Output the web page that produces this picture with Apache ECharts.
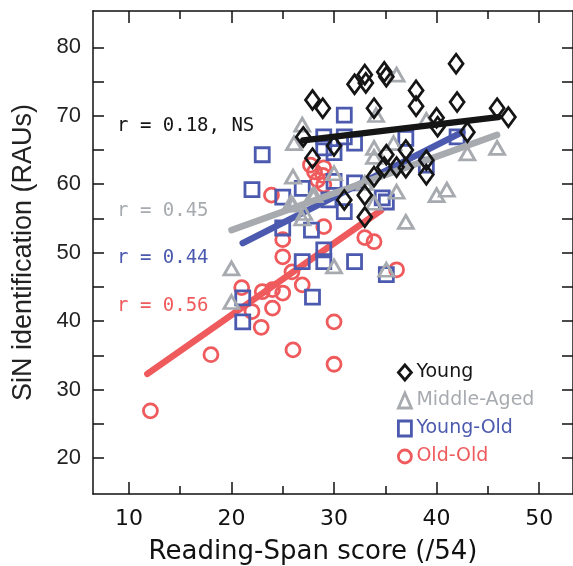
<!DOCTYPE html>
<html>
<head>
<meta charset="utf-8">
<script src="https://cdn.jsdelivr.net/npm/echarts@6/dist/echarts.min.js"></script>
<style>html,body{margin:0;padding:0;background:#fff}#c{width:573px;height:566px}</style>
</head>
<body>
<div id="c"></div>
<script>
// ---- data ----
var seriesNames = ['Young', 'Middle-Aged', 'Young-Old', 'Old-Old'];
var young = [[27.0,66.9],[27.9,72.3],[28.9,71.1],[27.9,63.8],[30.0,65.6],[32.0,74.6],[33.0,76.0],[33.1,74.8],[34.9,76.4],[35.1,75.7],[33.9,71.1],[38.0,73.7],[38.0,71.4],[41.9,77.6],[42.0,72.0],[40.0,69.7],[40.1,68.4],[43.0,67.6],[45.9,71.1],[47.0,69.8],[35.1,64.3],[37.0,65.0],[34.9,62.5],[36.1,62.5],[37.0,62.4],[39.0,63.5],[39.0,61.4],[33.9,61.1],[33.0,58.4],[31.0,57.7],[33.0,55.2]];
var middleAged = [[20.0,47.7],[20.0,42.8],[26.9,68.7],[26.1,66.0],[26.0,61.1],[27.9,58.4],[25.8,57.3],[36.1,76.0],[34.1,70.1],[39.0,69.4],[33.9,65.3],[33.9,64.0],[35.8,66.0],[30.0,61.6],[36.1,58.9],[33.0,60.2],[40.0,58.4],[41.0,59.2],[43.0,64.5],[45.9,65.3],[28.1,58.4],[33.9,57.3],[26.0,57.0],[26.9,55.0],[27.1,55.8],[37.0,54.5],[30.0,48.0],[35.1,47.5]];
var youngOld = [[23.0,64.3],[22.0,59.2],[25.0,58.1],[26.9,59.4],[29.0,66.9],[31.0,70.1],[31.0,66.9],[32.0,66.0],[29.0,65.3],[30.0,64.6],[37.0,66.7],[42.0,66.9],[39.0,62.8],[32.0,60.2],[30.0,60.4],[34.7,58.0],[29.5,57.7],[25.0,53.6],[27.8,53.3],[26.9,48.7],[27.9,43.5],[21.1,43.4],[21.1,39.9],[29.0,50.4],[29.0,48.7],[32.0,48.7],[35.1,46.8],[31.0,56.0],[35.1,57.4]];
var oldOld = [[12.1,26.9],[18.0,35.1],[26.0,35.8],[30.0,39.9],[30.0,33.7],[21.0,44.9],[22.0,41.4],[22.9,39.1],[24.0,41.9],[23.0,44.3],[24.0,44.6],[25.0,44.1],[25.0,49.4],[25.0,51.9],[25.9,47.2],[26.9,45.3],[33.0,52.2],[33.9,51.6],[36.1,47.5],[29.0,53.8],[28.1,61.8],[28.9,61.3],[23.9,58.4],[27.7,62.8],[28.4,60.6],[29.0,62.4],[29.0,59.9]];
// regression line end points
var youngFit = [[27.0,66.4],[46.0,69.8]];
var middleAgedFit = [[20.0,53.3],[45.9,67.2]];
var youngOldFit = [[21.1,51.4],[42.5,67.6]];
var oldOldFit = [[11.8,32.3],[34.6,56.2]];
var rLabels = ['r = 0.18, NS', 'r = 0.45', 'r = 0.44', 'r = 0.56'];
var xMajorTicks = [10,20,30,40,50];
var xMinorTicks = [15,25,35,45];
var yTicks = [20,25,30,35,40,45,50,55,60,65,70,75,80];
var yLabels = [20,30,40,50,60,70,80];
var xTitle = 'Reading-Span score (/54)';
var yTitle = 'SiN identification (RAUs)';

// ---- styling ----
var colors = ['#151515', '#a7abb0', '#4b5aae', '#ef5a5c'];
var symbols = ['diamond', 'triangle', 'rect', 'circle'];
var symSizes = [[14,19],[15,13],[14,14],[14,14]];
var sFont = 'DejaVu Sans';
var mFont = 'DejaVu Sans Mono';
var hFont = 'Liberation Sans';
var XMIN = 6.5, XMAX = 53.3, YMIN = 14.75, YMAX = 85.3;

function xAx(pos, ticks, len, showLine, showLabel) {
  return {
    type: 'value', position: pos, min: XMIN, max: XMAX, gridIndex: 0,
    axisLine: {show: showLine, onZero: false, lineStyle: {color: '#111', width: 1.5}},
    axisTick: {show: true, inside: true, length: len, customValues: ticks, lineStyle: {color: '#111', width: 1.5}},
    axisLabel: {show: showLabel, customValues: xMajorTicks, margin: 14, fontFamily: sFont, fontSize: 22, color: '#111'},
    splitLine: {show: false}
  };
}
function yAx(pos, showLabel) {
  return {
    type: 'value', position: pos, min: YMIN, max: YMAX,
    axisLine: {show: true, onZero: false, lineStyle: {color: '#111', width: 1.5}},
    axisTick: {show: true, inside: true, length: 11, customValues: yTicks, lineStyle: {color: '#111', width: 1.5}},
    axisLabel: {show: showLabel, customValues: yLabels, margin: 12, fontFamily: hFont, fontSize: 22, color: '#222'},
    splitLine: {show: false}
  };
}

var xAxes = [xAx('bottom', xMajorTicks, 12, true, true), xAx('bottom', xMinorTicks, 8, false, false),
             xAx('top', xMajorTicks, 12, true, false), xAx('top', xMinorTicks, 8, false, false)];
xAxes[0].name = xTitle;
xAxes[0].nameLocation = 'middle';
xAxes[0].nameGap = 45;
xAxes[0].nameTextStyle = {fontFamily: sFont, fontSize: 26, color: '#111', padding: [0, 40, 0, 0]};
var yAxes = [yAx('left', true), yAx('right', false)];
yAxes[0].name = yTitle;
yAxes[0].nameLocation = 'middle';
yAxes[0].nameGap = 56;
yAxes[0].nameTextStyle = {fontFamily: hFont, fontSize: 27, color: '#222'};

var pts = [young, middleAged, youngOld, oldOld];
var fits = [youngFit, middleAgedFit, youngOldFit, oldOldFit];
var zOrder = [4, 3, 2, 1];
var series = [];
[3,2,1,0].forEach(function (i) {
  series.push({
    name: seriesNames[i], type: 'scatter', data: pts[i], symbol: symbols[i], symbolSize: symSizes[i],
    z: 2 + zOrder[i] * 2,
    itemStyle: {color: 'rgba(255,255,255,0)', borderColor: colors[i], borderWidth: 2.8, opacity: 1},
    emphasis: {disabled: true}
  });
  series.push({
    name: seriesNames[i] + ' fit', type: 'line', data: fits[i], symbol: 'none', z: 3 + zOrder[i] * 2,
    lineStyle: {color: colors[i], width: 6.5, cap: 'round'}, silent: true
  });
});

var labelTops = [117, 202, 249, 297];
var graphics = rLabels.map(function (t, i) {
  return {type: 'text', left: 117, top: labelTops[i], style: {text: t, fill: colors[i], font: '19px "' + mFont + '"'}};
});

var chart = echarts.init(document.getElementById('c'), null, {renderer: 'canvas'});
chart.setOption({
  animation: false,
  backgroundColor: '#fff',
  grid: {left: 93, top: 11, right: 0, bottom: 72, containLabel: false, outerBoundsMode: 'none'},
  xAxis: xAxes,
  yAxis: yAxes,
  legend: {
    orient: 'vertical', left: 392, top: 358, itemGap: 9, itemWidth: 13, itemHeight: 15,
    data: seriesNames.map(function (n, i) {
      return {name: n, icon: symbols[i], textStyle: {color: colors[i]},
              itemStyle: {color: 'rgba(255,255,255,0)', borderColor: colors[i], borderWidth: 2.8}};
    }),
    textStyle: {fontFamily: sFont, fontSize: 19},
    selectedMode: false
  },
  graphic: graphics,
  series: series
});
</script>
</body>
</html>
